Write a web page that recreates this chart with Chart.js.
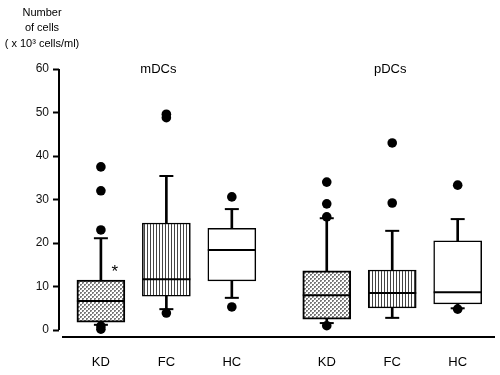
<!DOCTYPE html>
<html>
<head>
<meta charset="utf-8">
<script src="https://cdn.jsdelivr.net/npm/chart.js@4.4.1/dist/chart.umd.min.js"></script>
<style>
  html, body { margin: 0; padding: 0; background: #fff; }
  #chart { display: block; }
</style>
</head>
<body>
<canvas id="chart" width="500" height="375"></canvas>
<script>
// groups and box-plot summary values (x 10^3 cells/ml)
const labels = ['KD', 'FC', 'HC', 'KD', 'FC', 'HC'];
const slots = [1, 2, 3, 4.45, 5.45, 6.45];   // x positions, with a gap between mDCs and pDCs
const groupNames = ['mDCs', 'pDCs'];
const q1 = [1.8, 7.8, 11.3, 2.5, 5.1, 6.0];
const median = [6.7, 11.7, 18.4, 8.0, 8.5, 8.7];
const q3 = [11.5, 24.6, 23.4, 13.6, 13.8, 20.5];
const whiskerLow = [1.2, 4.8, 7.4, 1.6, 2.8, 5.0];
const whiskerHigh = [21.1, 35.4, 27.8, 25.7, 22.8, 25.5];
const outliers = [
    [0.2, 0.9, 23, 32, 37.5],
    [3.9, 48.8, 49.6],
    [5.3, 30.6],
    [1.0, 26, 29, 34],
    [29.2, 43],
    [4.8, 33.3]
];
const yTicks = [0, 10, 20, 30, 40, 50, 60];

// fill patterns for the boxes
function crossHatch() {
    const c = document.createElement('canvas');
    c.width = 4; c.height = 4;
    const g = c.getContext('2d');
    g.fillStyle = '#fff';
    g.fillRect(0, 0, 4, 4);
    g.fillStyle = '#777';
    g.fillRect(0, 0, 2, 2);
    g.fillRect(2, 2, 2, 2);
    g.fillStyle = '#bbb';
    g.fillRect(1, 1, 1, 1);
    g.fillRect(3, 3, 1, 1);
    return g.createPattern(c, 'repeat');
}

function verticalLines() {
    const c = document.createElement('canvas');
    c.width = 3; c.height = 4;
    const g = c.getContext('2d');
    g.fillStyle = '#fff';
    g.fillRect(0, 0, 3, 4);
    g.fillStyle = '#444';
    g.fillRect(0, 0, 1, 4);
    return g.createPattern(c, 'repeat');
}

const fills = [crossHatch(), verticalLines(), '#fff', crossHatch(), verticalLines(), '#fff'];
const borderWidths = [2, 1.5, 1.5, 2, 1.5, 1.5];

const outlierPoints = [];
outliers.forEach((list, i) => list.forEach(v => outlierPoints.push({ x: slots[i], y: v })));

const capPoints = [];
slots.forEach((x, i) => {
    capPoints.push({ x: x, y: whiskerHigh[i] });
    capPoints.push({ x: x, y: whiskerLow[i] });
});

// annotations and detached axis lines
const extrasPlugin = {
    id: 'extras',
    afterDraw(chart) {
        const ctx = chart.ctx;
        const x = chart.scales.x;
        const y = chart.scales.y;
        const area = chart.chartArea;
        ctx.save();
        ctx.strokeStyle = '#000';
        ctx.lineWidth = 2;
        ctx.beginPath();
        ctx.moveTo(area.left, y.getPixelForValue(60));
        ctx.lineTo(area.left, y.getPixelForValue(0));
        ctx.stroke();
        ctx.beginPath();
        ctx.moveTo(area.left + 3, area.bottom);
        ctx.lineTo(area.right, area.bottom);
        ctx.stroke();

        ctx.fillStyle = '#000';
        ctx.textAlign = 'center';
        ctx.textBaseline = 'middle';
        ctx.font = '13px "Liberation Sans", Arial, sans-serif';
        ctx.fillText(groupNames[0], x.getPixelForValue(slots[1]) - 8, y.getPixelForValue(60));
        ctx.fillText(groupNames[1], x.getPixelForValue(slots[4]) - 2, y.getPixelForValue(60));

        ctx.font = '11px "Liberation Sans", Arial, sans-serif';
        ctx.fillText('Number', 42, 13);
        ctx.fillText('of cells', 42, 28);
        ctx.fillText('( x 10\u00b3 cells/ml)', 42, 44);

        ctx.font = '17px "Liberation Sans", Arial, sans-serif';
        ctx.fillText('*', x.getPixelForValue(slots[0]) + 14, y.getPixelForValue(13.2));
        ctx.restore();
    }
};

new Chart(document.getElementById('chart'), {
    type: 'bar',
    data: {
        datasets: [
            {
                type: 'scatter',
                data: outlierPoints,
                pointStyle: 'circle',
                pointRadius: 4.8,
                backgroundColor: '#000',
                borderColor: '#000',
                borderWidth: 0
            },
            {
                type: 'scatter',
                data: capPoints,
                pointStyle: 'line',
                pointRadius: 7,
                borderColor: '#000',
                borderWidth: 2
            },
            {
                type: 'scatter',
                data: slots.map((x, i) => ({ x: x, y: median[i] })),
                pointStyle: 'line',
                pointRadius: 24,
                borderColor: '#000',
                borderWidth: 2
            },
            {
                data: slots.map((x, i) => ({ x: x, y: [q1[i], q3[i]] })),
                backgroundColor: fills,
                borderColor: '#000',
                borderWidth: borderWidths,
                borderSkipped: false,
                barThickness: 48,
                grouped: false
            },
            {
                data: slots.map((x, i) => ({ x: x, y: [q3[i], whiskerHigh[i]] })),
                backgroundColor: '#000',
                borderWidth: 0,
                barThickness: 2,
                grouped: false
            },
            {
                data: slots.map((x, i) => ({ x: x, y: [whiskerLow[i], q1[i]] })),
                backgroundColor: '#000',
                borderWidth: 0,
                barThickness: 2,
                grouped: false
            }
        ]
    },
    options: {
        responsive: false,
        animation: false,
        layout: { autoPadding: false, padding: { top: 69, right: 5, left: 0, bottom: 0 } },
        plugins: {
            legend: { display: false },
            tooltip: { enabled: false }
        },
        scales: {
            x: {
                type: 'linear',
                offset: false,
                min: 0.36,
                max: 7.02,
                grid: { display: false, drawTicks: true, tickLength: 18, offset: false },
                border: { display: false },
                afterBuildTicks: scale => { scale.ticks = slots.map(v => ({ value: v })); },
                afterFit: scale => {
                    scale.height = 38;
                    scale.paddingLeft = 0;
                    scale.paddingRight = 0;
                },
                ticks: {
                    autoSkip: false,
                    maxRotation: 0,
                    padding: 0,
                    color: '#000',
                    font: { family: '"Liberation Sans", Arial, sans-serif', size: 13 },
                    callback: (value, index) => labels[index]
                }
            },
            y: {
                min: -1.6,
                max: 60,
                grid: {
                    drawOnChartArea: false,
                    drawTicks: true,
                    tickLength: 6,
                    tickWidth: 2,
                    tickColor: '#000'
                },
                border: { display: false },
                afterBuildTicks: scale => { scale.ticks = yTicks.map(v => ({ value: v })); },
                afterFit: scale => { scale.width = 59; },
                ticks: {
                    padding: 4,
                    color: '#111',
                    font: { family: '"Liberation Sans", Arial, sans-serif', size: 12 }
                }
            }
        }
    },
    plugins: [extrasPlugin]
});
</script>
</body>
</html>
